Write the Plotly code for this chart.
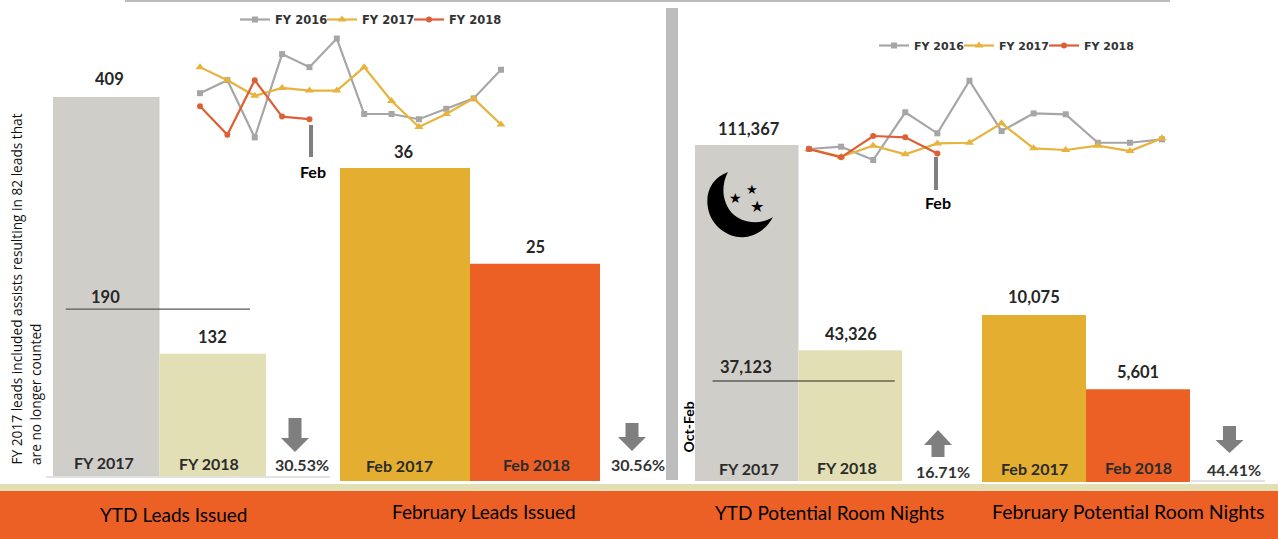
import plotly.graph_objects as go

W, H = 1278, 539

# ---------- data ----------
months = ["Oct", "Nov", "Dec", "Jan", "Feb", "Mar", "Apr", "May", "Jun", "Jul", "Aug", "Sep"]

ytd_leads_cats = ["FY 2017", "FY 2018"]
ytd_leads_vals = [409, 132]
ytd_leads_prior = 190
ytd_leads_prior_level = 180
ytd_leads_change = "30.53%"

feb_leads_cats = ["Feb 2017", "Feb 2018"]
feb_leads_vals = [36, 25]
feb_leads_change = "30.56%"

ytd_nights_cats = ["FY 2017", "FY 2018"]
ytd_nights_vals = [111367, 43326]
ytd_nights_prior = "37,123"
ytd_nights_prior_level = 33150
ytd_nights_change = "16.71%"

feb_nights_cats = ["Feb 2017", "Feb 2018"]
feb_nights_vals = [10075, 5601]
feb_nights_change = "44.41%"

leads_fy2016 = [35, 40, 18, 50, 45, 56, 27, 27, 25, 29, 33, 44]
leads_fy2017 = [45, 40, 34, 37, 36, 36, 45, 32, 22, 27, 33, 23]
leads_fy2018 = [30, 19, 40, 26, 25]

nights_fy2016 = [7600, 8640, 2680, 24000, 14600, 38100, 15600, 23500, 23100, 10400, 10400, 11900]
nights_fy2017 = [7600, 4170, 9090, 5200, 10075, 10400, 19100, 7900, 7150, 9090, 6700, 12400]
nights_fy2018 = [7600, 3870, 13400, 12800, 5601]

footer_titles = ["YTD Leads Issued", "February Leads Issued", "YTD Potential Room Nights", "February Potential Room Nights"]

# ---------- styles ----------
GREY_BAR, PALE, GOLD, ORANGE = "#D0CEC9", "#E2DFB4", "#E4AE30", "#EC6025"
L16, L17, L18 = "#A6A6A6", "#E6B33C", "#DD5F36"
TXT = "#262626"
FONT = "Lato"


def px(x):
    return x / W


def py(y):
    return 1 - y / H


fig = go.Figure()
annos, shapes = [], []
layout = {}


def axes(n, left, right, top, bottom, xrange, yrange, xcats=None):
    sx = "" if n == 1 else str(n)
    xa = dict(domain=[px(left), px(right)], range=xrange, visible=False, anchor="y" + sx, fixedrange=True)
    if xcats is not None:
        xa.update(type="category", categoryorder="array", categoryarray=xcats)
    layout["xaxis" + sx] = xa
    layout["yaxis" + sx] = dict(domain=[py(bottom), py(top)], range=yrange, visible=False, anchor="x" + sx, fixedrange=True)
    return "x" + sx, "y" + sx


def text(x, y, s, size=14, bold=False, color=TXT, angle=0, xanchor="center", yanchor="middle", family=FONT):
    annos.append(dict(x=px(x), y=py(y), xref="paper", yref="paper", text=f"<b>{s}</b>" if bold else s,
                      showarrow=False, textangle=angle, xanchor=xanchor, yanchor=yanchor,
                      font=dict(size=size, color=color, family=family)))


def bar_panel(n, cats, vals, colors, left, right, top, bottom, shift, cat_pos, xshift=(0, 0)):
    xa, ya = axes(n, left, right, top, bottom, [-0.5, 1.5], [0, max(vals)], cats)
    fig.add_trace(go.Bar(x=cats, y=vals, marker=dict(color=colors, line=dict(width=0)), width=1.0,
                         xaxis=xa, yaxis=ya, showlegend=False, hoverinfo="x+y"))
    for c, v, pos, sh, xs in zip(cats, vals, cat_pos, shift, xshift):
        annos.append(dict(x=c, y=v, xref=xa, yref=ya, text=f"<b>{v:,}</b>", showarrow=False, yanchor="bottom",
                          yshift=sh, xshift=xs, font=dict(size=16.5, color=TXT, family=FONT)))
        text(pos[0], pos[1], c, size=16, bold=True, color="#2b2b2b")
    return xa, ya


def line_panel(n, left, right, top, bottom, ymax, s16, s17, s18, legend):
    xa, ya = axes(n, left, right, top, bottom, [0, 11], [0, ymax])
    for name, vals, col, sym, size in (("FY 2016", s16, L16, "square", 6),
                                       ("FY 2017", s17, L17, "triangle-up", 8),
                                       ("FY 2018", s18, L18, "circle", 6)):
        fig.add_trace(go.Scatter(x=list(range(len(vals))), y=vals, name=name, mode="lines+markers",
                                 line=dict(color=col, width=2.2), marker=dict(color=col, symbol=sym, size=size),
                                 xaxis=xa, yaxis=ya, legend=legend, cliponaxis=False))
    # empty spacer entry: keeps the last legend label from being clipped
    fig.add_trace(go.Scatter(x=[None], y=[None], name=" ", mode="lines", line=dict(color="rgba(0,0,0,0)", width=0),
                             xaxis=xa, yaxis=ya, legend=legend, hoverinfo="skip"))


def arrow(cx, top, bottom, neck, direction):
    sw, hw = 6.5, 14
    if direction == "down":
        pts = [(cx - sw, top), (cx + sw, top), (cx + sw, neck), (cx + hw, neck), (cx, bottom), (cx - hw, neck), (cx - sw, neck)]
    else:
        pts = [(cx - sw, bottom), (cx + sw, bottom), (cx + sw, neck), (cx + hw, neck), (cx, top), (cx - hw, neck), (cx - sw, neck)]
    path = "M" + " L".join(f"{px(a):.5f},{py(b):.5f}" for a, b in pts) + " Z"
    shapes.append(dict(type="path", path=path, xref="paper", yref="paper", fillcolor="#7F7F7F", line=dict(width=0)))


def rect(x0, y0, x1, y1, color, layer="below"):
    shapes.append(dict(type="rect", xref="paper", yref="paper", x0=px(x0), x1=px(x1), y0=py(y1), y1=py(y0),
                       fillcolor=color, line=dict(width=0), layer=layer))


def hline(x0, x1, y, color, width=1):
    shapes.append(dict(type="line", xref="paper", yref="paper", x0=px(x0), x1=px(x1), y0=py(y), y1=py(y),
                       line=dict(color=color, width=width)))


# ---------- panels ----------
a = bar_panel(1, ytd_leads_cats, ytd_leads_vals, [GREY_BAR, PALE], 53, 266, 97, 476, [6, 5], [(104, 462), (209, 463)], (3, 0))
b = bar_panel(2, feb_leads_cats, feb_leads_vals, [GOLD, ORANGE], 340, 600, 168, 481, [4, 5], [(399, 465), (536, 464)], (-1, 0))
c = bar_panel(3, ytd_nights_cats, ytd_nights_vals, [GREY_BAR, PALE], 695, 902, 145, 481, [4, 4], [(749, 468), (847, 467)], (2, 1))
d = bar_panel(4, feb_nights_cats, feb_nights_vals, [GOLD, ORANGE], 982, 1190, 315, 482, [6, 5], [(1034, 468), (1138, 467)])

line_panel(5, 200, 501, 28.1, 184.3, 60, leads_fy2016, leads_fy2017, leads_fy2018, "legend")
line_panel(6, 809, 1162, 65.3, 166, 45000, nights_fy2016, nights_fy2017, nights_fy2018, "legend2")

# prior-year reference lines on the YTD bars
shapes.append(dict(type="line", xref=a[0], yref=a[1], x0=-0.38, x1=1.35, y0=ytd_leads_prior_level, y1=ytd_leads_prior_level,
                   line=dict(color="#595959", width=1.2)))
shapes.append(dict(type="line", xref=c[0], yref=c[1], x0=-0.33, x1=1.43, y0=ytd_nights_prior_level, y1=ytd_nights_prior_level,
                   line=dict(color="#262626", width=1.2)))
text(105, 297, str(ytd_leads_prior), size=16.5, bold=True)
text(746, 367, ytd_nights_prior, size=16.5, bold=True)

# furniture
hline(125, 1170, 1, "#A6A6A6", 1.5)
rect(666, 8, 678, 480, "#BDBDBD")
rect(0, 484, W, 491, PALE)
rect(0, 491, W, H, ORANGE)
hline(46, 330, 477, "#D9D9D9", 1.5)
hline(1191, 1265, 481, "#D9D9D9", 1.5)

# Feb markers
rect(309, 125, 313, 157, "#808080", "above")
rect(934, 157, 938, 190, "#808080", "above")
text(313, 171, "Feb", size=16, bold=True, color="#000000")
text(938, 202, "Feb", size=16, bold=True, color="#000000")

# change arrows and labels
arrow(295, 418, 452, 438, "down")
arrow(632, 423, 451, 437, "down")
arrow(938, 430, 457, 445, "up")
arrow(1229.5, 426, 453, 440, "down")
text(302, 464, ytd_leads_change, size=16, bold=True, color="#333333")
text(638, 464, feb_leads_change, size=16, bold=True, color="#333333")
text(943, 471, ytd_nights_change, size=16, bold=True, color="#333333")
text(1234, 469, feb_nights_change, size=16, bold=True, color="#333333")

# footer titles
text(173, 514, footer_titles[0], size=19, color="#000000")
text(484, 511, footer_titles[1], size=19, color="#000000")
text(829, 512, footer_titles[2], size=19, color="#000000")
text(1128, 511, footer_titles[3], size=19.5, color="#000000")

# side notes
text(16, 467, "FY 2017 leads included assists resulting in 82 leads that", size=13.7, color="#111111", angle=-90,
     yanchor="bottom", family="Open Sans")
text(35, 467, "are no longer counted", size=13.7, color="#111111", angle=-90, yanchor="bottom", family="Open Sans")
text(688, 455, "Oct-Feb", size=14, bold=True, color="#000000", angle=-90, yanchor="bottom")

# moon
moon = [("M", 728, 172), ("C", 712, 178, 705, 192, 708, 208), ("C", 711, 227, 730, 239, 745, 237),
        ("C", 757, 236, 768, 227, 773, 217), ("C", 760, 225, 742, 224, 731, 212), ("C", 722, 201, 721, 185, 728, 172)]
path = ""
for seg in moon:
    coords = seg[1:]
    path += seg[0] + " ".join(f"{px(coords[i]):.5f},{py(coords[i + 1]):.5f}" for i in range(0, len(coords), 2)) + " "
shapes.append(dict(type="path", path=path + "Z", xref="paper", yref="paper", fillcolor="#000000", line=dict(width=0)))
for sx, sy, sz in ((752, 189, 13), (735, 198, 14), (757, 207, 16)):
    text(sx, sy, "★", size=sz, color="#000000", family="DejaVu Sans")

leg_font = dict(size=11.5, color="#333333", family="DejaVu Sans", weight="bold")
fig.update_layout(
    width=W, height=H, autosize=False,
    margin=dict(l=0, r=0, t=0, b=0),
    paper_bgcolor="white", plot_bgcolor="rgba(0,0,0,0)",
    barmode="overlay",
    annotations=annos, shapes=shapes,
    legend=dict(orientation="h", x=px(235), y=py(5), xanchor="left", yanchor="top", font=leg_font,
                bgcolor="rgba(0,0,0,0)", entrywidth=42, entrywidthmode="pixels", itemwidth=30, tracegroupgap=0),
    legend2=dict(orientation="h", x=px(874), y=py(31), xanchor="left", yanchor="top",
                 font=dict(size=11, color="#333333", family="DejaVu Sans", weight="bold"),
                 bgcolor="rgba(0,0,0,0)", entrywidth=40, entrywidthmode="pixels", itemwidth=30, tracegroupgap=0),
    **layout,
)
fig.write_html("out.html", config={"displayModeBar": False},
               post_script="document.body.style.margin='0';")
